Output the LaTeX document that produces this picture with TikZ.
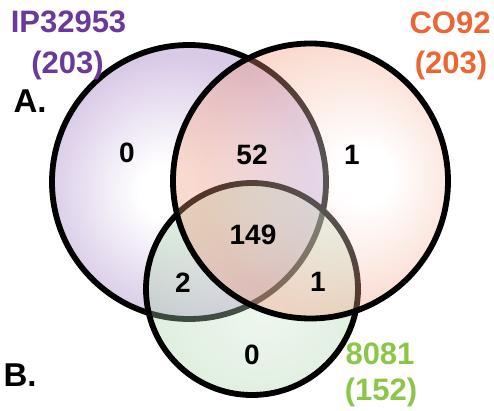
\documentclass[tikz,border=0pt]{standalone}
\usepackage{fontspec}
\setmainfont{Liberation Sans}

% set colours
\definecolor{ipcol}{RGB}{106,58,155}
\definecolor{cocol}{RGB}{236,102,52}
\definecolor{grcol}{RGB}{140,198,72}
% circle fills
\definecolor{ipfill}{RGB}{217,202,231}
\definecolor{cofill}{RGB}{240,150,118}
\definecolor{grfill}{RGB}{165,208,165}

% soft radial glows for the three sets
\pgfdeclareradialshading{ipshade}{\pgfpoint{-4.5bp}{-2bp}}{color(0bp)=(white); color(5bp)=(white); color(24bp)=(ipfill); color(50bp)=(ipfill)}
\pgfdeclareradialshading{coshade}{\pgfpoint{11bp}{1bp}}{color(0bp)=(white); color(5bp)=(white); color(25bp)=(cofill); color(50bp)=(cofill)}
\pgfdeclareradialshading{grshade}{\pgfpoint{3bp}{-5bp}}{color(0bp)=(white!50!grfill); color(25bp)=(grfill); color(50bp)=(grfill)}

\begin{document}
\begin{tikzpicture}[x=1pt,y=-1pt,
  setline/.style={draw=black, line width=5.8pt},
  setname/.style={anchor=base, inner sep=0pt, font=\fontsize{31}{36}\selectfont\bfseries},
  panel/.style={anchor=base, inner sep=0pt, font=\fontsize{33}{38}\selectfont\bfseries},
  count/.style={anchor=base, inner sep=0pt, font=\fontsize{28}{32}\selectfont\bfseries}]
\useasboundingbox (0,0) rectangle (494,411);

% the three sets: IP32953, 8081, CO92 (later ones translucent)
\draw[setline, shade, shading=ipshade] (189,182) circle[radius=137];
\draw[setline, shade, shading=grshade, fill opacity=0.35] (252,289) circle[radius=106];
\draw[setline, shade, shading=coshade, fill opacity=0.35] (310.5,181) circle[radius=137.5];

% set names and sizes
\node[setname, text=ipcol] (ipname)  at (68.5,33) {IP32953};
\node[setname, text=ipcol] (ipsize)  at (67.5,74) {(203)};
\node[setname, text=cocol] (coname)  at (450,34)  {CO92};
\node[setname, text=cocol] (cosize)  at (451,73.5) {(203)};
\node[setname, text=grcol] (grname)  at (380,364) {8081};
\node[setname, text=grcol] (grsize)  at (381,400) {(152)};

% panel letters
\node[panel] (pa) at (30,113) {A.};
\node[panel] (pb) at (20,386) {B.};

% region counts
\node[count] (onlyip)  at (127,163) {0};
\node[count] (ipco)    at (252,165) {52};
\node[count] (onlyco)  at (352,165) {1};
\node[count] (allthree) at (253,244) {149};
\node[count] (ipgr)    at (183,292) {2};
\node[count] (cogr)    at (318,291) {1};
\node[count] (onlygr)  at (252,364) {0};
\end{tikzpicture}
\end{document}
